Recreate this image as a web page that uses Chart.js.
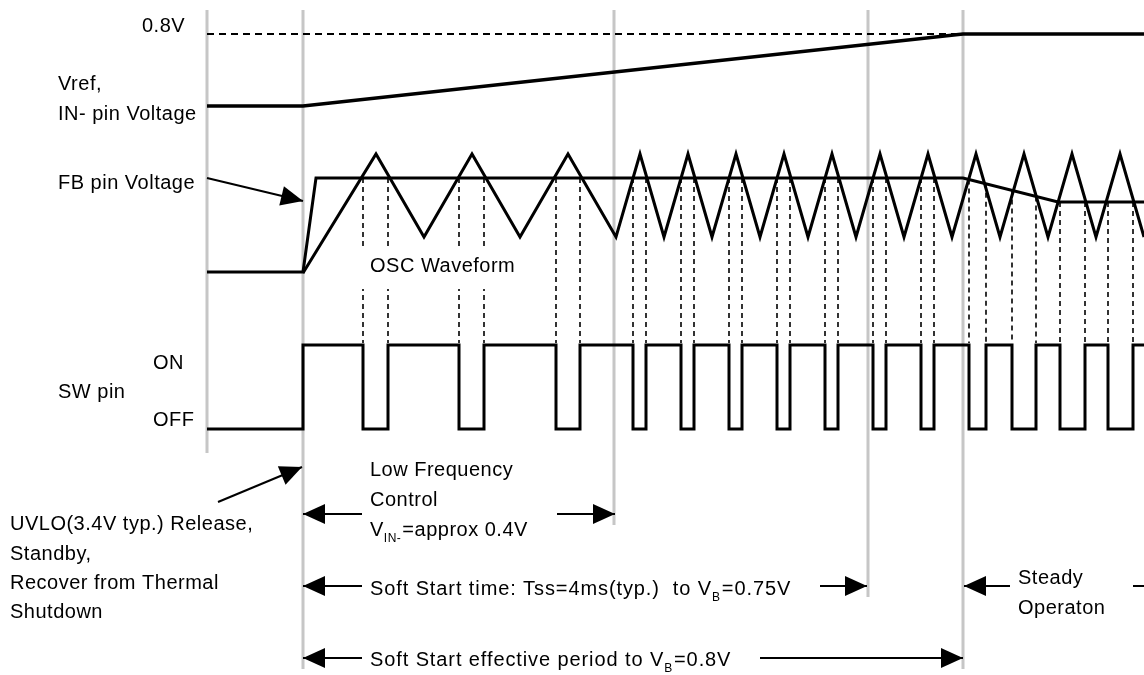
<!DOCTYPE html>
<html>
<head>
<meta charset="utf-8">
<script src="https://cdn.jsdelivr.net/npm/chart.js@4.4.1/dist/chart.umd.min.js"></script>
<style>
  html, body { margin: 0; padding: 0; background: #fff; }
  canvas { display: block; }
</style>
</head>
<body>
<canvas id="timing" width="1144" height="675"></canvas>
<script>
// Soft start timing diagram
// time axis 0..1144, level axis 0..675 (top = 0), both hidden

// phase boundaries (grey markers) and how far down each one runs
const markerTimes = [207, 303, 614, 868, 963];
const markerEnds  = [453, 669, 525, 597, 669];

// Vref / IN- pin voltage and the 0.8V target
const vrefTimes  = [207, 303, 963, 1144];
const vrefLevels = [106, 106, 34, 34];
const targetTimes = [207, 963];
const targetLevel = 34;

// FB pin voltage
const fbTimes  = [207, 303, 316, 963, 1058, 1144];
const fbLevels = [272, 272, 178, 178, 202, 202];

// OSC waveform turning points
const oscTimes  = [303, 376, 424, 472, 520, 568, 616, 640, 664, 688, 712, 736, 760, 784, 808,
                   832, 856, 880, 904, 928, 952, 976, 1000, 1024, 1048, 1072, 1096, 1120, 1144];
const oscLevels = [273, 154, 237, 154, 237, 154, 237, 154, 237, 154, 237, 154, 237, 154, 237,
                   154, 237, 154, 237, 154, 237, 154, 237, 154, 237, 154, 237, 154, 237];

// SW pin: goes ON at 303, OFF while OSC is above FB
const swStart = 207;
const swOnTime = 303;
const swEnd = 1144;
const SW_ON = 345;
const SW_OFF = 429;
const swOffStart = [363, 459, 556, 633, 681, 729, 777, 825, 873, 921, 969, 1012, 1060, 1108];
const swOffEnd   = [388, 484, 580, 646, 694, 742, 790, 838, 886, 934, 986, 1036, 1085, 1133];

// annotation arrows [fromT, fromL, toT, toL, head]
const arrows = [
  [207, 178, 303, 201, true],   // FB pin Voltage
  [218, 502, 302, 467, true],   // UVLO release
  [362, 514, 303, 514, true],   // low frequency control
  [557, 514, 615, 514, true],
  [362, 586, 303, 586, true],   // soft start time
  [820, 586, 867, 586, true],
  [1010, 586, 964, 586, true],  // steady operation
  [1133, 586, 1144, 586, false],
  [362, 658, 303, 658, true],   // soft start effective period
  [760, 658, 963, 658, true]
];

// text: parts are [string, isSubscript]
const labels = [
  { x: 142, y: 25, parts: [['0.8V']] },
  { x: 58, y: 83, parts: [['Vref,']] },
  { x: 58, y: 113, parts: [['IN- pin Voltage']] },
  { x: 58, y: 182, parts: [['FB pin Voltage']] },
  { x: 370, y: 265, parts: [['OSC Waveform']], clear: true },
  { x: 153, y: 362, parts: [['ON']] },
  { x: 58, y: 391, parts: [['SW pin']] },
  { x: 153, y: 419, parts: [['OFF']] },
  { x: 370, y: 469, parts: [['Low Frequency']] },
  { x: 370, y: 499, parts: [['Control']] },
  { x: 370, y: 529, parts: [['V'], ['IN-', true], ['=approx 0.4V']] },
  { x: 10, y: 523, parts: [['UVLO(3.4V typ.) Release,']] },
  { x: 10, y: 553, parts: [['Standby,']] },
  { x: 10, y: 582, parts: [['Recover from Thermal']] },
  { x: 10, y: 611, parts: [['Shutdown']] },
  { x: 370, y: 588, parts: [['Soft Start time: Tss=4ms(typ.)  to V'], ['B', true], ['=0.75V']], wide: true },
  { x: 1018, y: 577, parts: [['Steady']] },
  { x: 1018, y: 607, parts: [['Operaton']] },
  { x: 370, y: 659, parts: [['Soft Start effective period to V'], ['B', true], ['=0.8V']], wide: true }
];

const FONT = '"Liberation Sans", Arial, sans-serif';

function zip(ts, ls) {
  return ts.map((t, i) => ({ x: t, y: ls[i] }));
}

// FB level at a given time (for the dashed crossing lines)
function fbAt(t) {
  for (let i = 1; i < fbTimes.length; i++) {
    if (t <= fbTimes[i]) {
      const t0 = fbTimes[i - 1], t1 = fbTimes[i];
      const f = t1 === t0 ? 1 : (t - t0) / (t1 - t0);
      return fbLevels[i - 1] + f * (fbLevels[i] - fbLevels[i - 1]);
    }
  }
  return fbLevels[fbLevels.length - 1];
}

// SW square wave
const swPoints = [{ x: swStart, y: SW_OFF }, { x: swOnTime, y: SW_OFF }, { x: swOnTime, y: SW_ON }];
swOffStart.forEach((s, i) => {
  const e = swOffEnd[i];
  swPoints.push({ x: s, y: SW_ON }, { x: s, y: SW_OFF }, { x: e, y: SW_OFF }, { x: e, y: SW_ON });
});
swPoints.push({ x: swEnd, y: SW_ON });

// dashed guides from the OSC/FB crossing down to the SW edge
const edgePoints = [];
swOffStart.concat(swOffEnd).forEach(t => {
  edgePoints.push({ x: t, y: fbAt(t) }, { x: t, y: SW_ON - 2 }, { x: t, y: null });
});

const markerPoints = [];
markerTimes.forEach((t, i) => {
  markerPoints.push({ x: t, y: 10 }, { x: t, y: markerEnds[i] }, { x: t, y: null });
});

const line = (data, extra) => Object.assign({
  data: data,
  showLine: true,
  borderColor: '#000',
  borderWidth: 3,
  pointRadius: 0,
  tension: 0,
  fill: false,
  spanGaps: false,
  order: 1
}, extra || {});

const datasets = [
  line(markerPoints, { borderColor: '#c6c6c6', borderWidth: 3, order: 10 }),
  line(zip(targetTimes, targetTimes.map(() => targetLevel)), { borderWidth: 1.8, borderDash: [7, 5], order: 5 }),
  line(edgePoints, { borderWidth: 1.6, borderDash: [5, 4], order: 5 }),
  line(zip(vrefTimes, vrefLevels), { borderWidth: 3.5 }),
  line(zip(fbTimes, fbLevels)),
  line(zip(oscTimes, oscLevels)),
  line(swPoints, { borderJoinStyle: 'miter' })
];
arrows.forEach(a => {
  datasets.push(line([{ x: a[0], y: a[1] }, { x: a[2], y: a[3] }],
    { borderWidth: 2, arrowHead: a[4], order: 2 }));
});

// arrowheads at the end of each annotation arrow
const arrowPlugin = {
  id: 'arrowHeads',
  afterDatasetsDraw(chart) {
    const ctx = chart.ctx;
    chart.data.datasets.forEach((ds, i) => {
      if (!ds.arrowHead) return;
      const pts = chart.getDatasetMeta(i).data;
      const tip = pts[pts.length - 1], prev = pts[pts.length - 2];
      const ang = Math.atan2(tip.y - prev.y, tip.x - prev.x);
      const len = 22, half = 10;
      ctx.save();
      ctx.translate(tip.x, tip.y);
      ctx.rotate(ang);
      ctx.beginPath();
      ctx.moveTo(0, 0);
      ctx.lineTo(-len, -half);
      ctx.lineTo(-len, half);
      ctx.closePath();
      ctx.fillStyle = '#000';
      ctx.fill();
      ctx.restore();
    });
  }
};

// text labels, with optional subscripts
const textPlugin = {
  id: 'labels',
  afterDraw(chart) {
    const ctx = chart.ctx;
    const sx = chart.scales.x, sy = chart.scales.y;
    ctx.save();
    ctx.textBaseline = 'alphabetic';
    ctx.textAlign = 'left';
    labels.forEach(lb => {
      if ('letterSpacing' in ctx) ctx.letterSpacing = lb.wide ? '0.9px' : '0.5px';
      let px = sx.getPixelForValue(lb.x);
      const base = sy.getPixelForValue(lb.y) + 7;
      if (lb.clear) {
        ctx.font = '20px ' + FONT;
        const w = ctx.measureText(lb.parts.map(p => p[0]).join('')).width;
        ctx.fillStyle = '#fff';
        ctx.fillRect(px - 12, base - 23, w + 20, 40);
      }
      lb.parts.forEach(p => {
        const sub = !!p[1];
        ctx.font = (sub ? '12px ' : '20px ') + FONT;
        ctx.fillStyle = '#000';
        ctx.fillText(p[0], px, base + (sub ? 6 : 0));
        px += ctx.measureText(p[0]).width + (sub ? 1 : 0);
      });
    });
    ctx.restore();
  }
};

new Chart(document.getElementById('timing'), {
  type: 'scatter',
  data: { datasets: datasets },
  options: {
    responsive: false,
    devicePixelRatio: 1,
    animation: false,
    events: [],
    layout: { padding: 0 },
    plugins: { legend: { display: false }, tooltip: { enabled: false } },
    scales: {
      x: { type: 'linear', min: 0, max: 1144, display: false },
      y: { type: 'linear', min: 0, max: 675, reverse: true, display: false }
    }
  },
  plugins: [arrowPlugin, textPlugin]
});
</script>
</body>
</html>
